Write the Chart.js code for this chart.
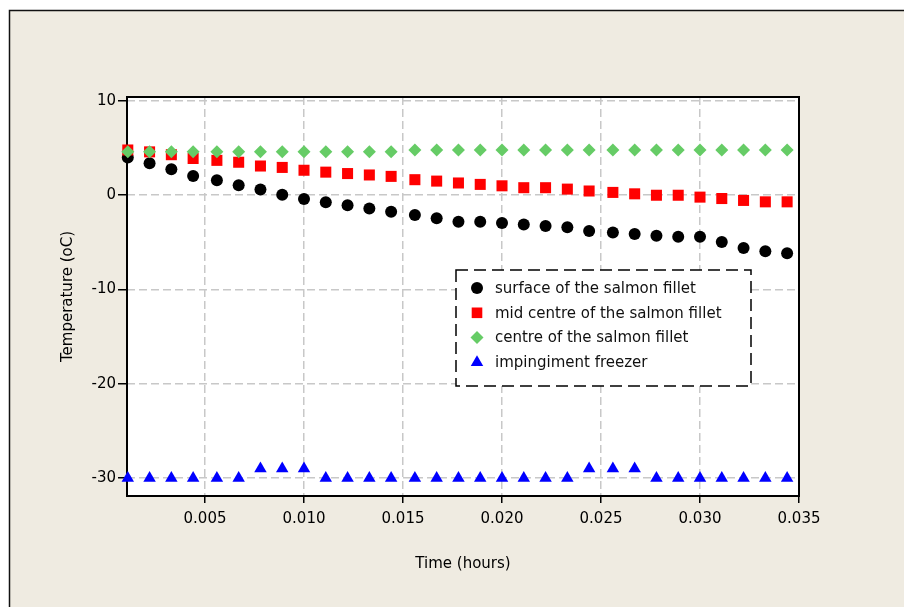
<!DOCTYPE html>
<html>
<head>
<meta charset="utf-8">
<script src="https://cdn.jsdelivr.net/npm/chart.js@4.4.1/dist/chart.umd.min.js"></script>
<style>
  html, body { margin: 0; padding: 0; background: #ffffff; }
  canvas { display: block; }
</style>
</head>
<body>
<canvas id="chart" width="904" height="607"></canvas>
<script>
// time in hours (4 s steps)
const timeHours = [
  0.0011, 0.0022, 0.0033, 0.0044, 0.0056, 0.0067, 0.0078, 0.0089, 0.0100, 0.0111,
  0.0122, 0.0133, 0.0144, 0.0156, 0.0167, 0.0178, 0.0189, 0.0200, 0.0211, 0.0222,
  0.0233, 0.0244, 0.0256, 0.0267, 0.0278, 0.0289, 0.0300, 0.0311, 0.0322, 0.0333,
  0.0344
];
const surfaceTemp = [
  4.0, 3.4, 2.75, 2.05, 1.6, 1.05, 0.6, 0.05, -0.4, -0.75,
  -1.05, -1.4, -1.75, -2.1, -2.45, -2.8, -2.8, -2.95, -3.1, -3.25,
  -3.4, -3.8, -3.95, -4.1, -4.3, -4.4, -4.4, -4.95, -5.6, -5.95,
  -6.15
];
const midCentreTemp = [
  4.8, 4.6, 4.3, 3.9, 3.7, 3.5, 3.1, 2.95, 2.65, 2.45,
  2.3, 2.15, 2.0, 1.65, 1.5, 1.3, 1.15, 1.0, 0.8, 0.8,
  0.65, 0.45, 0.3, 0.15, 0.0, 0.0, -0.2, -0.35, -0.55, -0.7,
  -0.7
];
const centreTemp = [
  4.6, 4.6, 4.6, 4.6, 4.6, 4.6, 4.6, 4.6, 4.6, 4.6,
  4.6, 4.6, 4.6, 4.8, 4.8, 4.8, 4.8, 4.8, 4.8, 4.8,
  4.8, 4.8, 4.8, 4.8, 4.8, 4.8, 4.8, 4.8, 4.8, 4.8,
  4.8
];
const freezerTemp = [
  -30, -30, -30, -30, -30, -30, -29, -29, -29, -30,
  -30, -30, -30, -30, -30, -30, -30, -30, -30, -30,
  -30, -29, -29, -29, -30, -30, -30, -30, -30, -30,
  -30
];
const seriesNames = [
  "surface of the salmon fillet",
  "mid centre of the salmon fillet",
  "centre of the salmon fillet",
  "impingiment freezer"
];
const xTickValues = [0.005, 0.010, 0.015, 0.020, 0.025, 0.030, 0.035];
const yTickValues = [-30, -20, -10, 0, 10];

const FONT = "'DejaVu Sans', Verdana, sans-serif";

function pairs(ys) {
  return timeHours.map((t, i) => ({ x: t, y: ys[i] }));
}

// page frame, white plot area and plot border
const framePlugin = {
  id: "frame",
  beforeDraw(chart) {
    const ctx = chart.ctx;
    const a = chart.chartArea;
    ctx.save();
    ctx.fillStyle = "#ffffff";
    ctx.fillRect(0, 0, chart.width, chart.height);
    ctx.fillStyle = "#efebe1";
    ctx.fillRect(10, 10, chart.width - 10, chart.height - 10);
    ctx.strokeStyle = "#111111";
    ctx.lineWidth = 1.5;
    ctx.beginPath();
    ctx.moveTo(9.5, chart.height);
    ctx.lineTo(9.5, 10.5);
    ctx.lineTo(chart.width, 10.5);
    ctx.stroke();
    ctx.fillStyle = "#ffffff";
    ctx.fillRect(a.left, a.top, a.right - a.left, a.bottom - a.top);
    ctx.restore();
  },
  beforeDatasetsDraw(chart) {
    const ctx = chart.ctx;
    const a = chart.chartArea;
    ctx.save();
    ctx.strokeStyle = "#000000";
    ctx.lineWidth = 2;
    ctx.strokeRect(a.left, a.top, a.right - a.left, a.bottom - a.top);
    ctx.restore();
  }
};

// legend box inside the plot
const boxLegend = {
  id: "boxLegend",
  afterDatasetsDraw(chart) {
    const ctx = chart.ctx;
    const x0 = 456, y0 = 270, w = 295, h = 116;
    ctx.save();
    ctx.fillStyle = "#ffffff";
    ctx.fillRect(x0, y0, w, h);
    ctx.setLineDash([12, 6]);
    ctx.strokeStyle = "#000000";
    ctx.lineWidth = 1.5;
    ctx.strokeRect(x0, y0, w, h);
    ctx.setLineDash([]);
    ctx.font = "15px " + FONT;
    ctx.textBaseline = "middle";
    ctx.textAlign = "left";
    chart.data.datasets.forEach((ds, i) => {
      const cy = 288 + i * 24.8;
      ctx.fillStyle = ds.backgroundColor;
      ctx.strokeStyle = ds.backgroundColor;
      Chart.helpers.drawPoint(ctx, {
        pointStyle: ds.pointStyle,
        radius: ds.legendRadius,
        borderWidth: 0,
        rotation: 0
      }, 477, cy);
      ctx.fillStyle = "#111111";
      ctx.fillText(ds.label, 495, cy + 1);
    });
    ctx.restore();
  }
};

new Chart(document.getElementById("chart").getContext("2d"), {
  type: "scatter",
  data: {
    datasets: [
      {
        label: seriesNames[0],
        data: pairs(surfaceTemp),
        pointStyle: "circle",
        pointRadius: 6,
        legendRadius: 6,
        backgroundColor: "#000000",
        borderColor: "#000000",
        borderWidth: 0,
        order: 2,
        clip: false
      },
      {
        label: seriesNames[1],
        data: pairs(midCentreTemp),
        pointStyle: "rect",
        pointRadius: 7.8,
        legendRadius: 7.5,
        backgroundColor: "#ff0000",
        borderColor: "#ff0000",
        borderWidth: 0,
        order: 1,
        clip: false
      },
      {
        label: seriesNames[2],
        data: pairs(centreTemp),
        pointStyle: "rectRot",
        pointRadius: 6.5,
        legendRadius: 6.5,
        backgroundColor: "#66cc66",
        borderColor: "#66cc66",
        borderWidth: 0,
        order: 0,
        clip: false
      },
      {
        label: seriesNames[3],
        data: pairs(freezerTemp),
        pointStyle: "triangle",
        pointRadius: 7.2,
        legendRadius: 7.2,
        backgroundColor: "#0000ff",
        borderColor: "#0000ff",
        borderWidth: 0,
        order: 3,
        clip: false
      }
    ]
  },
  options: {
    responsive: false,
    animation: false,
    layout: { padding: { left: 55, top: 97, right: 105, bottom: 31 } },
    plugins: {
      legend: { display: false },
      tooltip: { enabled: false }
    },
    scales: {
      x: {
        type: "linear",
        min: 0.00106,
        max: 0.035,
        afterBuildTicks: (scale) => {
          scale.ticks = xTickValues.map((v) => ({ value: v }));
        },
        afterFit: (scale) => { scale.height = 80; },
        ticks: {
          color: "#000000",
          padding: 7,
          maxRotation: 0,
          autoSkip: false,
          font: { family: FONT, size: 15 },
          callback: (v) => Number(v).toFixed(3)
        },
        grid: {
          color: "#c8c8c8",
          lineWidth: 1.5,
          tickLength: 7,
          tickColor: "#000000",
          tickWidth: 1.5,
          tickBorderDash: []
        },
        border: { display: false, dash: [8, 4] },
        title: {
          display: true,
          text: "Time (hours)",
          color: "#000000",
          padding: { top: 4, bottom: 3 },
          font: { family: FONT, size: 15 }
        }
      },
      y: {
        type: "linear",
        min: -31.9,
        max: 10.42,
        afterBuildTicks: (scale) => {
          scale.ticks = yTickValues.map((v) => ({ value: v }));
        },
        afterFit: (scale) => { scale.width = 72; },
        ticks: {
          color: "#000000",
          padding: 2,
          autoSkip: false,
          font: { family: FONT, size: 15 },
          callback: (v) => String(v)
        },
        grid: {
          color: "#c8c8c8",
          lineWidth: 1.5,
          tickLength: 9,
          tickColor: "#000000",
          tickWidth: 1.5,
          tickBorderDash: []
        },
        border: { display: false, dash: [8, 4] },
        title: {
          display: true,
          text: "Temperature (oC)",
          color: "#000000",
          padding: { top: 4, bottom: 4 },
          font: { family: FONT, size: 15 }
        }
      }
    }
  },
  plugins: [framePlugin, boxLegend]
});
</script>
</body>
</html>
